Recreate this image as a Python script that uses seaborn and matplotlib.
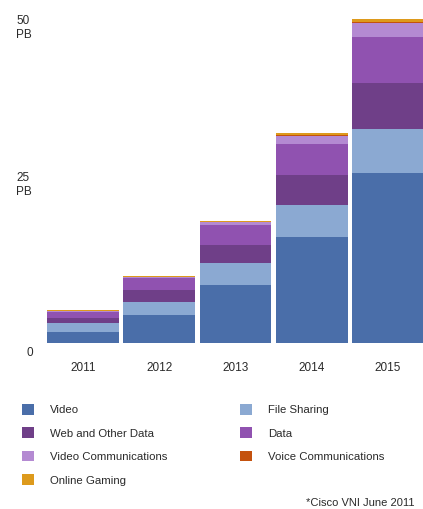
import matplotlib
matplotlib.use("Agg")
import numpy as np
import pandas as pd
import matplotlib.pyplot as plt
import seaborn as sns
from matplotlib.patches import Patch

# Monthly traffic by application type, in petabytes
years = ["2011", "2012", "2013", "2014", "2015"]
video = [1.7, 4.3, 9.0, 16.4, 26.4]
file_sharing = [1.4, 2.0, 3.4, 5.0, 6.8]
web_other = [0.8, 1.9, 2.8, 4.7, 7.1]
data_traffic = [0.9, 1.9, 3.1, 4.8, 7.1]
video_comm = [0.15, 0.15, 0.4, 1.2, 2.2]
voice_comm = [0.05, 0.05, 0.05, 0.1, 0.2]
online_gaming = [0.1, 0.1, 0.15, 0.3, 0.4]

series_names = ["Video", "File Sharing", "Web and Other Data", "Data",
                "Video Communications", "Voice Communications", "Online Gaming"]
series_values = [video, file_sharing, web_other, data_traffic,
                 video_comm, voice_comm, online_gaming]
series_colors = ["#4a6ea9", "#8ba9d2", "#6f3f88", "#9052b0",
                 "#b48ad2", "#c4520e", "#dd9a1c"]

y_tick_values = [0, 25, 50]
y_tick_labels = ["0", "25\nPB", "50\nPB"]
source_note = "*Cisco VNI June 2011"

W, H, DPI = 423, 509, 100
sns.set_style("white")
plt.rcParams["font.family"] = ["Liberation Sans", "DejaVu Sans"]
text_color = "#2a2a2a"

fig = plt.figure(figsize=(W / DPI, H / DPI), dpi=DPI)
base_px = 343
px_per_unit = 6.45
ax = fig.add_axes([0, (H - base_px) / H, 1, base_px / H])

df = pd.DataFrame({name: vals for name, vals in zip(series_names, series_values)})
df["year"] = years
cum = df[series_names].cumsum(axis=1)

# stacked bars: draw cumulative totals from the top layer down
for name, color in reversed(list(zip(series_names, series_colors))):
    sns.barplot(x=df["year"], y=cum[name], color=color, saturation=1,
                width=0.944, errorbar=None, linewidth=0, order=years, ax=ax)

spacing = 76.25
ax.set_xlim(-83 / spacing, 4 + 35 / spacing)
ax.set_ylim(0, base_px / px_per_unit)
for s in ax.spines.values():
    s.set_visible(False)
ax.set_xlabel("")
ax.set_ylabel("")
ax.set_yticks([])
ax.set_xticks(range(len(years)))
ax.set_xticklabels(years, fontsize=8.5, color=text_color)
ax.tick_params(axis="x", length=0, pad=14)

# value axis labels
offsets = {0: (30, -4, "center"), 25: (16, 10, "left"), 50: (16, 6, "left")}
for v, lab in zip(y_tick_values, y_tick_labels):
    xpx, dy, ha = offsets[v]
    ax.annotate(lab, xy=(xpx / W, v), xycoords=("figure fraction", "data"),
                xytext=(0, dy), textcoords="offset pixels", ha=ha, va="top",
                fontsize=8.5, color=text_color, linespacing=1.3,
                multialignment="left", annotation_clip=False)

handles = [Patch(facecolor=c, edgecolor="none") for c in series_colors]
legend_kw = dict(frameon=False, fontsize=8.2, handlelength=1.05, handleheight=1.05,
                 handletextpad=1.4, labelspacing=1.08, borderpad=0,
                 borderaxespad=0, loc="upper left", labelcolor=text_color)
col1 = [0, 2, 4, 6]
col2 = [1, 3, 5]
fig.legend([handles[i] for i in col1], [series_names[i] for i in col1],
           bbox_to_anchor=(22 / W, 1 - 404 / H), **legend_kw)
fig.legend([handles[i] for i in col2], [series_names[i] for i in col2],
           bbox_to_anchor=(240 / W, 1 - 404 / H), **legend_kw)

fig.text(414 / W, 1 - 503 / H, source_note, ha="right", va="center",
         fontsize=8, color=text_color)

fig.savefig("out.png", dpi=DPI)
